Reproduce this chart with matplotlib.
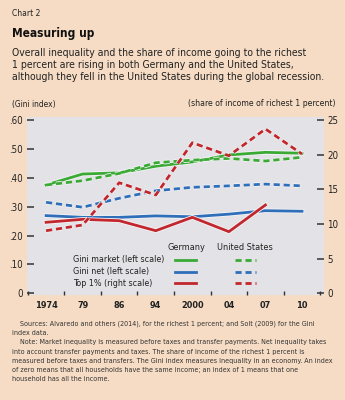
import numpy as np
import matplotlib
matplotlib.use("Agg")
import matplotlib.pyplot as plt
import matplotlib.patheffects as pe
from matplotlib.lines import Line2D

plt.rcParams["font.family"] = ["DejaVu Sans"]
plt.rcParams["font.stretch"] = "condensed"

# data
years = ["1974", "79", "86", "94", "2000", "04", "07", "10"]
ger_gini_market = [0.375, 0.413, 0.417, 0.440, 0.455, 0.479, 0.488, 0.485]
us_gini_market = [0.375, 0.390, 0.415, 0.452, 0.461, 0.467, 0.458, 0.471]
ger_gini_net = [0.269, 0.263, 0.263, 0.268, 0.265, 0.274, 0.286, 0.284]
us_gini_net = [0.315, 0.298, 0.329, 0.355, 0.367, 0.372, 0.378, 0.372]
ger_top1 = [10.24, 10.67, 10.47, 9.03, 10.96, 8.89, 12.74, np.nan]
us_top1 = [9.03, 9.85, 15.95, 14.18, 21.72, 19.85, 23.70, 20.09]

left_ticks = [0, 0.1, 0.2, 0.3, 0.4, 0.5, 0.6]
left_labels = ["0", ".10", ".20", ".30", ".40", ".50", ".60"]
right_ticks = [0, 5, 10, 15, 20, 25]

bg = "#f6dcc4"
panel = "#e3e3e7"
green = "#3aaa35"
blue = "#2f6fba"
red = "#c1272d"

fig = plt.figure(figsize=(3.45, 4.0), dpi=100, facecolor=bg)
ax = fig.add_axes([0.0774, 0.2625, 0.8616, 0.445])
ax.set_facecolor(panel)
ax2 = ax.twinx()

x = np.arange(len(years))
halo = [pe.Stroke(linewidth=3.2, foreground="#f4f4f6"), pe.Normal()]
dash = (0, (2.2, 1.4))

ax.plot(x, ger_gini_market, color=green, lw=2, path_effects=halo, zorder=3)
ax.plot(x, us_gini_market, color=green, lw=2, ls=dash, path_effects=halo, zorder=3)
ax.plot(x, ger_gini_net, color=blue, lw=2, path_effects=halo, zorder=3)
ax.plot(x, us_gini_net, color=blue, lw=2, ls=dash, path_effects=halo, zorder=3)
ax2.plot(x, ger_top1, color=red, lw=2, path_effects=halo, zorder=3)
ax2.plot(x, us_top1, color=red, lw=2, ls=dash, path_effects=halo, zorder=3)

ax.set_xlim(-0.53, 7.6)
ax.set_ylim(-0.0059, 0.6104)
ax2.set_ylim(-0.245, 25.43)

for a in (ax, ax2):
    for s in a.spines.values():
        s.set_visible(False)

ax.set_yticks(left_ticks)
ax.set_yticklabels(left_labels)
ax.tick_params(axis="y", direction="in", length=5, width=1.1, color="#333333",
               pad=2.5, labelsize=7, labelcolor="#222222")
ax2.set_yticks(right_ticks)
ax2.tick_params(axis="y", direction="in", length=5, width=1.1, color="#333333",
                pad=2.5, labelsize=7, labelcolor="#222222")
ax.set_xticks(x)
ax.set_xticklabels(years, fontweight="bold")
ax.set_xticks(np.arange(len(years) + 1) - 0.5, minor=True)
ax.tick_params(axis="x", which="major", length=0, pad=4, labelsize=6.6,
               labelcolor="#222222")
ax.tick_params(axis="x", which="minor", direction="in", length=3, width=1,
               color="#333333")

# legend built by hand
def fy(py):
    return 1 - py / 400

def fx(px):
    return px / 345

fig.text(fx(186), fy(247), "Germany", ha="center", va="center", fontsize=6.6,
         color="#222222")
fig.text(fx(245), fy(247), "United States", ha="center", va="center",
         fontsize=6.6, color="#222222")
rows = [("Gini market (left scale)", green, 259.5),
        ("Gini net (left scale)", blue, 271.5),
        ("Top 1% (right scale)", red, 283)]
for label, col, py in rows:
    fig.text(fx(73), fy(py), label, ha="left", va="center", fontsize=6.4,
             color="#222222")
    fig.add_artist(Line2D([fx(175), fx(196)], [fy(py), fy(py)], color=col,
                          lw=2, transform=fig.transFigure))
    fig.add_artist(Line2D([fx(235), fx(256)], [fy(py), fy(py)], color=col,
                          lw=2, ls=dash, transform=fig.transFigure))

# titles
fig.text(fx(12), fy(14), "Chart 2", fontsize=6.1, va="center", color="#222222")
fig.text(fx(12), fy(34), "Measuring up", fontsize=8.6, fontweight="bold",
         va="center", color="#111111")
subtitle = ["Overall inequality and the share of income going to the richest",
            "1 percent are rising in both Germany and the United States,",
            "although they fell in the United States during the global recession."]
for i, line in enumerate(subtitle):
    fig.text(fx(12), fy(52.5 + i * 12.2), line, fontsize=7.5, va="center",
             color="#222222")
fig.text(fx(12), fy(104), "(Gini index)", fontsize=6, va="center",
         color="#222222")
fig.text(fx(335), fy(104), "(share of income of richest 1 percent)",
         fontsize=6.2, va="center", ha="right", color="#222222")

notes = [
    (20, "Sources: Alvaredo and others (2014), for the richest 1 percent; and Solt (2009) for the Gini"),
    (12, "index data."),
    (20, "Note: Market inequality is measured before taxes and transfer payments. Net inequality takes"),
    (12, "into account transfer payments and taxes. The share of income of the richest 1 percent is"),
    (12, "measured before taxes and transfers. The Gini index measures inequality in an economy. An index"),
    (12, "of zero means that all households have the same income; an index of 1 means that one"),
    (12, "household has all the income."),
]
for i, (px, line) in enumerate(notes):
    fig.text(fx(px), fy(324 + i * 9.2), line, fontsize=5.15, va="center",
             color="#333333")

fig.savefig("out.png", dpi=100, facecolor=bg)
